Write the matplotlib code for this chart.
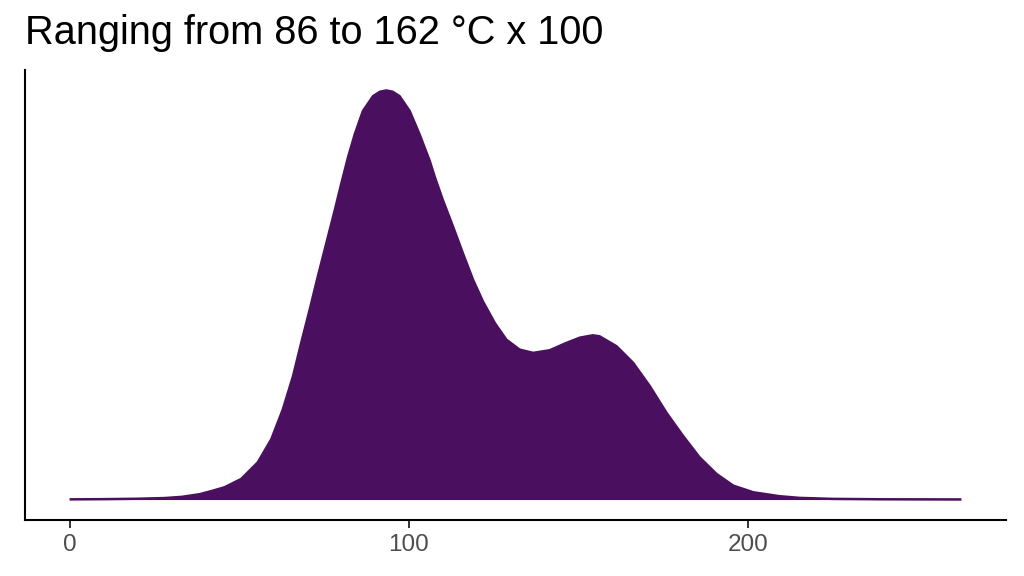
import matplotlib
matplotlib.use("Agg")
import matplotlib.pyplot as plt

# Values (kernel density estimate)
temperature = [0, 10, 20, 28, 33, 38.3, 42, 45.7, 50.6, 55.5, 59.5, 62.9, 65.9, 68.3,
               70.8, 73.2, 75.7, 78.2, 80.1, 82.1, 84.1, 86.5, 89.5, 91.5, 93.4, 95.3,
               97.3, 100.3, 103.2, 106.2, 107.7, 110.1, 113.1, 116.0, 119.0, 121.9,
               125.4, 128.8, 132.7, 136.7, 141.6, 146.5, 150.5, 154.3, 156.3, 161.3,
               166.2, 171.1, 176.0, 180.9, 185.8, 190.8, 195.7, 201.6, 209.4, 215.3,
               225, 240, 263]
density = [0.000006, 0.000012, 0.000024, 0.000045, 0.00008, 0.00016, 0.00026, 0.00037,
           0.00062, 0.00112, 0.00182, 0.00272, 0.00372, 0.00472, 0.00572, 0.00672,
           0.00772, 0.00872, 0.00951, 0.01031, 0.01101, 0.01171, 0.01216, 0.01229,
           0.01233, 0.01229, 0.01216, 0.01171, 0.01101, 0.01021, 0.00972, 0.00902,
           0.00822, 0.00742, 0.00662, 0.00597, 0.00532, 0.00482, 0.00452, 0.00442,
           0.00450, 0.00472, 0.00488, 0.00495, 0.00492, 0.00462, 0.00412, 0.00342,
           0.00262, 0.00192, 0.00127, 0.00077, 0.00042, 0.00022, 0.00010, 0.00005,
           0.00002, 0.000008, 0.000003]
x_ticks = [0, 100, 200]
title = "Ranging from 86 to 162 °C x 100"

fill_color = "#4A0F5E"

plt.rcParams['font.family'] = ['Liberation Sans', 'DejaVu Sans']

fig = plt.figure(figsize=(10.24, 5.76), dpi=100)
ax = fig.add_axes([25/1024, 1 - 520/576, (1006 - 25)/1024, (520 - 70)/576])

ax.fill_between(temperature, 0, density, color=fill_color, linewidth=0)
ax.plot(temperature, density, color=fill_color, linewidth=1.8,
        solid_joinstyle='round', solid_capstyle='butt')

xmin, xmax = min(temperature), max(temperature)
xr = xmax - xmin
ymax = max(density)
ax.set_xlim(xmin - 0.05 * xr, xmax + 0.05 * xr)
ax.set_ylim(-0.05 * ymax, 1.05 * ymax)

ax.set_xticks(x_ticks)
ax.set_xticklabels([str(t) for t in x_ticks])
ax.set_yticks([])
ax.tick_params(axis='x', length=5.4, width=1.4, color='#333333',
               labelcolor='#4D4D4D', labelsize=17.5, pad=5)

for side in ['top', 'right']:
    ax.spines[side].set_visible(False)
for side in ['left', 'bottom']:
    ax.spines[side].set_color('black')
    ax.spines[side].set_linewidth(1.5)

fig.text(25/1024, 1 - 44/576, title, ha='left', va='baseline',
         fontsize=28.6, color='black')

fig.savefig("out.png", dpi=100)
